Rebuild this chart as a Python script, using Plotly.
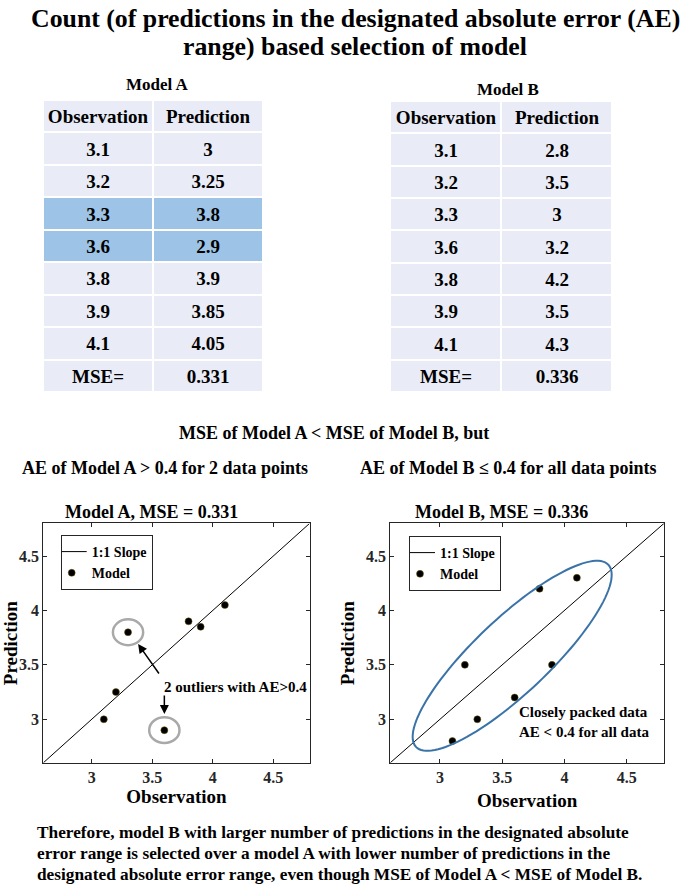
import numpy as np
import plotly.graph_objects as go

# ---------------- data ----------------
observation = [3.1, 3.2, 3.3, 3.6, 3.8, 3.9, 4.1]
prediction_a = [3, 3.25, 3.8, 2.9, 3.9, 3.85, 4.05]
prediction_b = [2.8, 3.5, 3, 3.2, 4.2, 3.5, 4.3]
mse_a = "0.331"
mse_b = "0.336"
ae_limit = 0.4
axis_range = [2.6, 4.8]
tick_vals = [3, 3.5, 4, 4.5]
tick_text = ["3", "3.5", "4", "4.5"]
table_header = ["Observation", "Prediction"]

# ---------------- page geometry ----------------
W, H = 685, 888
SERIF = "Liberation Serif, Times New Roman, serif"
LIGHT = "#E9ECF6"
HIGHLIGHT = "#9DC3E6"
AXC = "#262626"


def px_x(p):
    return p / W


def px_y(p):
    return 1 - p / H


def bold(s):
    return dict(family=SERIF, size=s, color="black", weight="bold")


def table_trace(obs, pred, mse, xa, ya):
    rows = [table_header] + [[f"{o:g}", f"{p:g}"] for o, p in zip(obs, pred)] + [["MSE=", mse]]
    flags = [0] + [1 if round(abs(p - o), 6) > ae_limit else 0 for o, p in zip(obs, pred)] + [0]
    z = [[f, f] for f in flags]
    return go.Heatmap(z=z, x=[0, 1], y=list(range(len(rows))), text=rows,
                      texttemplate="<b>%{text}</b>", textfont=dict(family=SERIF, size=19, color="black"),
                      colorscale=[[0, LIGHT], [1, HIGHLIGHT]], zmin=0, zmax=1, showscale=False,
                      xgap=2, ygap=2, hoverinfo="skip", xaxis=xa, yaxis=ya)


fig = go.Figure()
fig.add_trace(table_trace(observation, prediction_a, mse_a, "x3", "y3"))
fig.add_trace(table_trace(observation, prediction_b, mse_b, "x4", "y4"))

# scatter plots
for i, (pred, leg) in enumerate([(prediction_a, "legend"), (prediction_b, "legend2")]):
    xa = "x" if i == 0 else "x2"
    ya = "y" if i == 0 else "y2"
    fig.add_trace(go.Scatter(x=axis_range, y=axis_range, mode="lines", name="1:1 Slope",
                             line=dict(color="black", width=1), xaxis=xa, yaxis=ya, legend=leg,
                             hoverinfo="skip"))
    fig.add_trace(go.Scatter(x=observation, y=pred, mode="markers", name="Model",
                             marker=dict(color="black", size=7, line=dict(color="#6b5a00", width=0.5)),
                             xaxis=xa, yaxis=ya, legend=leg))

axis_common = dict(range=axis_range, tickvals=tick_vals, ticktext=tick_text, ticks="inside",
                   ticklen=4, tickcolor=AXC, showline=True, linecolor=AXC, linewidth=1, mirror="ticks",
                   showgrid=False, zeroline=False,
                   tickfont=dict(family=SERIF, size=16, color=AXC, weight="bold"))
title_font = bold(19)
hidden = dict(visible=False, showgrid=False, zeroline=False, fixedrange=True)
legend_common = dict(xanchor="left", yanchor="top", bgcolor="white", bordercolor=AXC, borderwidth=1,
                     itemwidth=30, tracegroupgap=0, indentation=-10,
                     font=dict(family=SERIF, size=14, color="black", weight="bold"))

fig.update_layout(
    width=W, height=H, margin=dict(l=0, r=0, t=0, b=0),
    paper_bgcolor="white", plot_bgcolor="white",
    xaxis=dict(domain=[px_x(43.3), px_x(309.6)], anchor="y",
               title=dict(text="Observation", font=title_font, standoff=4), **axis_common),
    yaxis=dict(domain=[px_y(762.8), px_y(523.4)], anchor="x",
               title=dict(text="Prediction", font=title_font, standoff=6), **axis_common),
    xaxis2=dict(domain=[px_x(390.2), px_x(664)], anchor="y2",
                title=dict(text="Observation", font=title_font, standoff=8), **axis_common),
    yaxis2=dict(domain=[px_y(762.8), px_y(523.4)], anchor="x2",
                title=dict(text="Prediction", font=title_font, standoff=6), **axis_common),
    xaxis3=dict(domain=[px_x(43), px_x(263)], anchor="y3", range=[-0.5, 1.5], **hidden),
    yaxis3=dict(domain=[px_y(392), px_y(100)], anchor="x3", range=[8.5, -0.5], **hidden),
    xaxis4=dict(domain=[px_x(390), px_x(612)], anchor="y4", range=[-0.5, 1.5], **hidden),
    yaxis4=dict(domain=[px_y(392), px_y(101)], anchor="x4", range=[8.5, -0.5], **hidden),
    legend=dict(x=px_x(60.7), y=px_y(535), **legend_common),
    legend2=dict(x=px_x(409), y=px_y(536), **legend_common),
)

# outlier circles (plot A) around points with AE > limit
r = 0.125
for o, p in zip(observation, prediction_a):
    if round(abs(p - o), 6) > ae_limit:
        fig.add_shape(type="circle", xref="x", yref="y", x0=o - r, x1=o + r, y0=p - r * 0.95,
                      y1=p + r * 0.95, line=dict(color="#A9A9A9", width=2.5))

# ellipse (plot B)
ell_c = (3.58, 3.583)
ell_major = (0.7726, 0.837)
ell_minor = (-0.2062, 0.2489)
t = np.linspace(0, 2 * np.pi, 121)
ex = ell_c[0] + ell_major[0] * np.cos(t) + ell_minor[0] * np.sin(t)
ey = ell_c[1] + ell_major[1] * np.cos(t) + ell_minor[1] * np.sin(t)
path = "M " + " L ".join(f"{a:.4f},{b:.4f}" for a, b in zip(ex, ey)) + " Z"
fig.add_shape(type="path", xref="x2", yref="y2", path=path, line=dict(color="#3A73A8", width=2))


def pann(text, x, y, size, xanchor="center"):
    return dict(text=text, x=px_x(x), y=px_y(y), xref="paper", yref="paper", showarrow=False,
                font=bold(size), xanchor=xanchor, yanchor="middle",
                align=xanchor if xanchor != "center" else "center")


ann = [
    pann("Count (of predictions in the designated absolute error (AE)", 355, 19, 25.8),
    pann("range) based selection of model", 355, 46, 25.8),
    pann("Model A", 157, 85, 17),
    pann("Model B", 508, 89, 17),
    pann("MSE of Model A < MSE of Model B, but", 334, 433, 18),
    pann("AE of Model A > 0.4 for 2 data points", 165, 468, 18),
    pann("AE of Model B ≤ 0.4 for all data points", 508, 468, 18),
    pann(f"Model A, MSE = {mse_a}", 151, 512, 18),
    pann(f"Model B, MSE = {mse_b}", 501.5, 512, 18),
    pann("Therefore, model B with larger number of predictions in the designated absolute", 35, 832, 17.3, "left"),
    pann("error range is selected over a model A with lower number of predictions in the", 35, 853, 17.3, "left"),
    pann("designated absolute error range, even though MSE of Model A < MSE of Model B.", 35, 874, 17.3, "left"),
    dict(text="2 outliers with AE>0.4", x=3.578, y=3.299, xref="x", yref="y", xanchor="left",
         showarrow=False, font=bold(15)),
    dict(text="", x=3.383, y=3.692, ax=3.564, ay=3.407, xref="x", yref="y", axref="x", ayref="y",
         showarrow=True, arrowhead=2, arrowsize=1.2, arrowwidth=1.5, arrowcolor="black"),
    dict(text="", x=3.6, y=3.049, ax=3.6, ay=3.232, xref="x", yref="y", axref="x", ayref="y",
         showarrow=True, arrowhead=2, arrowsize=1.2, arrowwidth=1.5, arrowcolor="black"),
    dict(text="Closely packed data<br>AE < 0.4 for all data", x=3.617, y=2.978, xref="x2", yref="y2",
         xanchor="left", align="left", showarrow=False, font=bold(15)),
]
fig.update_layout(annotations=ann)

fig.write_html("out.html", config={"displayModeBar": False},
               post_script="document.body.style.margin='0px';")
